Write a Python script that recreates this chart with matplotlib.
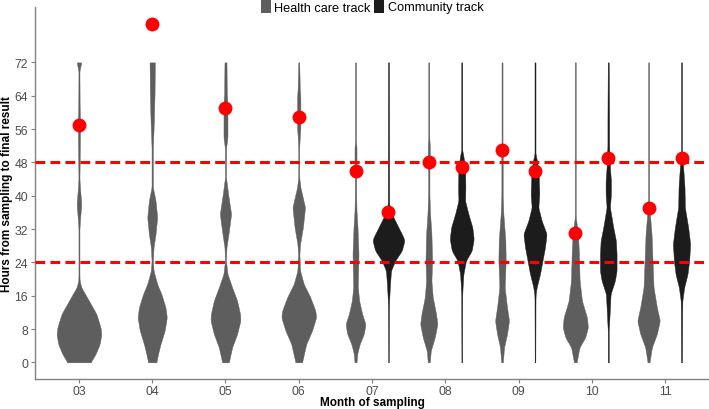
import numpy as np
import matplotlib
matplotlib.use("Agg")
import matplotlib.pyplot as plt
from matplotlib.patches import Patch

plt.rcParams["font.family"] = ["Liberation Sans", "DejaVu Sans"]

months = ["03", "04", "05", "06", "07", "08", "09", "10", "11"]
tracks = ["Health care track", "Community track"]
track_colors = {"Health care track": "#5e5e5e", "Community track": "#1c1c1c"}

# red marker values (hours) per month/track
hc_marker = [57, 81.2, 61, 59, 46, 48, 51, 31, 37]
ct_marker = [None, None, None, None, 36, 47, 46, 49, 49]

# violin profiles: hours and relative widths
hc_hours = {
    "03": [0, 2, 4.4, 6.8, 8.4, 11.6, 14.8, 18, 19.6, 21, 32, 34, 38, 42, 44, 54, 58, 62, 70, 72],
    "04": [0, 2, 4.4, 7.6, 10.8, 13.2, 16.4, 18.8, 22, 24.4, 27.6, 30.8, 34.8, 38.8, 42, 51.6, 58, 64.4, 72],
    "05": [0, 3.6, 6.8, 10, 11.6, 14.8, 18, 21.2, 24.4, 27.6, 30.8, 35.6, 40.4, 44.4, 51.6, 54, 62, 64.4, 72],
    "06": [0, 4.4, 7.6, 10.8, 12.4, 15.6, 18.8, 22, 26, 28.4, 32.4, 37.2, 42, 44.4, 51.6, 54, 56.4, 63.6, 66, 72],
    "07": [0, 2, 4.4, 6.8, 9.2, 11.6, 14.8, 18, 22, 26, 32.4, 36.4, 40, 46, 47.6, 51.6, 53, 72],
    "08": [0, 2.8, 6, 9.2, 11.6, 15.6, 19.6, 24.4, 30.8, 35.6, 40, 46, 47.6, 52, 54, 72],
    "09": [0, 3.6, 6.8, 10, 13.2, 18, 24.4, 29.2, 35.6, 40, 48, 50, 52, 72],
    "10": [0, 3.6, 6, 8.4, 10.8, 14.8, 19.6, 26, 30.8, 34.8, 72],
    "11": [0, 3.6, 6.8, 10, 13.2, 18, 24.4, 30.8, 35.6, 38, 72],
}
hc_widths = {
    "03": [70, 100, 125, 135, 130, 105, 60, 14, 4, 3, 3, 6, 14, 6, 3, 6, 6, 4, 3, 14],
    "04": [25, 35, 50, 75, 88, 80, 55, 30, 8, 4, 8, 20, 30, 20, 4, 4, 10, 14, 16],
    "05": [20, 40, 70, 90, 88, 70, 40, 12, 3, 6, 18, 34, 16, 3, 4, 12, 12, 8, 6],
    "06": [20, 45, 80, 105, 100, 70, 30, 8, 4, 8, 25, 38, 10, 3, 3, 6, 10, 10, 6, 3],
    "07": [6, 10, 25, 50, 60, 40, 22, 14, 16, 18, 12, 6, 4, 4, 6, 6, 3, 3],
    "08": [6, 12, 36, 52, 44, 24, 16, 20, 16, 8, 4, 4, 6, 6, 3, 3],
    "09": [5, 12, 30, 42, 30, 16, 22, 20, 8, 4, 4, 5, 3, 3],
    "10": [8, 25, 60, 76, 70, 40, 26, 22, 16, 3, 3],
    "11": [6, 20, 50, 68, 50, 30, 24, 18, 8, 3, 3],
}
ct_hours = {
    "07": [0, 13, 14.8, 18, 22, 24.4, 26.8, 29.2, 30, 32.4, 35.6, 38, 72],
    "08": [0, 16, 18, 21.2, 24.4, 26.8, 29.6, 32.4, 35.6, 38.8, 42, 46.8, 50, 50.8, 72],
    "09": [0, 15, 16.4, 18, 21.2, 24.4, 27.6, 30.8, 34, 37.2, 40.4, 45.2, 48.4, 50, 72],
    "10": [0, 7.6, 10, 13.2, 16.4, 19.6, 22, 26, 29.2, 32.4, 37.2, 40.4, 42, 43.6, 46.8, 52, 58, 72],
    "11": [0, 11.6, 14.8, 18, 21.2, 24.4, 28.4, 32.4, 37.2, 42, 46.8, 50, 72],
}
ct_widths = {
    "07": [2, 3, 4, 8, 15, 40, 80, 96, 90, 60, 20, 4, 3],
    "08": [2, 3, 5, 10, 25, 60, 72, 64, 40, 20, 22, 20, 8, 3, 3],
    "09": [2, 3, 4, 10, 30, 45, 60, 70, 40, 20, 26, 22, 12, 3, 3],
    "10": [3, 3, 6, 10, 14, 40, 50, 50, 46, 30, 10, 16, 16, 16, 10, 5, 5, 3],
    "11": [3, 4, 5, 16, 36, 46, 52, 40, 20, 18, 10, 3, 3],
}

px_per_unit = 73.6
width_scale = 1.0 / (3 * px_per_unit * 2)  # relative width -> half width in data units

fig = plt.figure(figsize=(7.09, 4.10), dpi=100)
ax = fig.add_axes([35 / 709, 1 - 380 / 410, 1 - 35 / 709, (380 - 8) / 410])


def smooth_profile(h, w):
    hh = np.linspace(min(h), max(h), 600)
    ww = np.interp(hh, h, w)
    k = 9
    ker = np.ones(k) / k
    pad = np.pad(ww, k // 2, mode="edge")
    ww = np.convolve(pad, ker, mode="valid")
    return hh, ww


def draw_violin(x, h, w, color):
    hh, ww = smooth_profile(h, w)
    half = ww * width_scale
    ax.fill_betweenx(hh, x - half, x + half, color=color, lw=0.3, edgecolor=color, zorder=2)


for i, m in enumerate(months):
    both = m in ct_hours
    off = 0.225 if both else 0.0
    draw_violin(i - off, hc_hours[m], hc_widths[m], track_colors["Health care track"])
    if both:
        draw_violin(i + off, ct_hours[m], ct_widths[m], track_colors["Community track"])

for y in (24, 48):
    ax.axhline(y, color="#ff0000", lw=2.2, dashes=(3.2, 1.7), zorder=3)

for i, m in enumerate(months):
    both = m in ct_hours
    off = 0.225 if both else 0.0
    ax.scatter([i - off], [hc_marker[i]], s=100, color="#ff0000", zorder=4, linewidths=0)
    if ct_marker[i] is not None:
        ax.scatter([i + off], [ct_marker[i]], s=100, color="#ff0000", zorder=4, linewidths=0)

ax.set_xlim(-0.6, len(months) - 0.4)
ax.set_ylim(-4.0, 85.3)
ax.set_xticks(range(len(months)))
ax.set_xticklabels(months)
ax.set_yticks(range(0, 73, 8))

for s in ("top", "right"):
    ax.spines[s].set_visible(False)
for s in ("left", "bottom"):
    ax.spines[s].set_color("#808080")
    ax.spines[s].set_linewidth(1.0)
ax.tick_params(axis="both", colors="#808080", labelcolor="#4d4d4d", labelsize=8.8, length=3, width=0.8)
ax.tick_params(axis="x", pad=1.5)
ax.tick_params(axis="y", pad=2)

ax.set_xlabel("Month of sampling", fontsize=8.5, fontweight="bold", va="center")
ax.xaxis.set_label_coords(0.5, (380 - 403) / 372)
ax.set_ylabel("Hours from sampling to final result", fontsize=8.5, fontweight="bold", va="center")
ax.yaxis.set_label_coords((7 - 35) / 674, 0.5)

handles = [Patch(facecolor=track_colors[t], edgecolor="none", label=t) for t in tracks]
fig.legend(handles=handles, loc="upper center", bbox_to_anchor=(372 / 709, 1.0), ncol=2, frameon=False,
           fontsize=9.2, handlelength=0.8, handleheight=1.2, handletextpad=0.25, columnspacing=0.3,
           borderpad=0.05, borderaxespad=0)

fig.savefig("out.png", dpi=100)
